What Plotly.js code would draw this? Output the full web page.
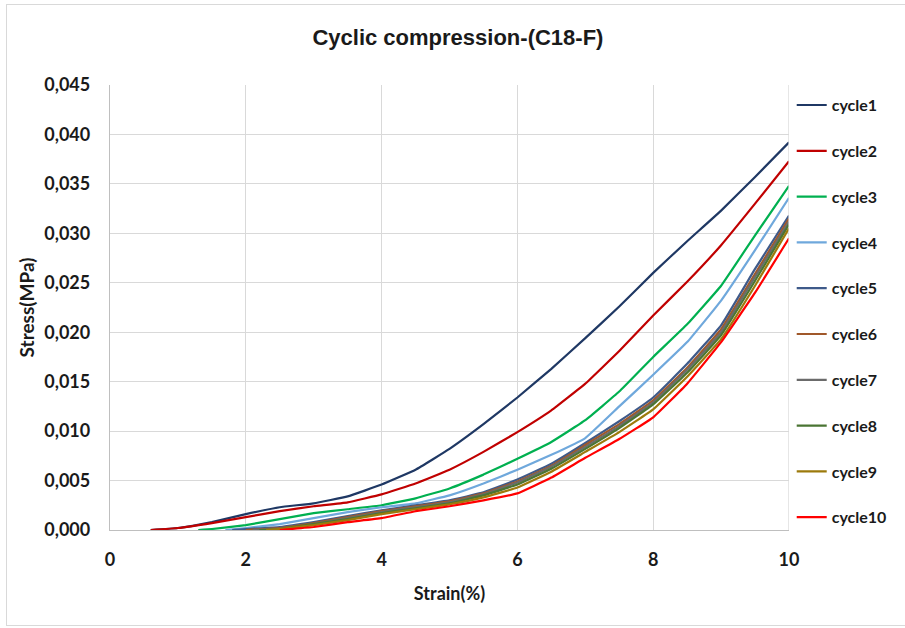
<!DOCTYPE html>
<html>
<head>
<meta charset="utf-8">
<script src="https://cdn.plot.ly/plotly-3.0.1.min.js"></script>
<style>
  html, body { margin: 0; padding: 0; background: #ffffff; }
  #wrap { position: relative; width: 905px; height: 628px; overflow: hidden; }
  #chart { width: 905px; height: 628px; }
  #frame { position: absolute; left: 6px; top: 4px; width: 1000px; height: 622px;
           border: 1px solid #D9D9D9; pointer-events: none; box-sizing: border-box; }
</style>
</head>
<body>
<div id="wrap">
  <div id="chart"></div>
  <div id="frame"></div>
</div>
<script>
// ---- data ----
const seriesNames = ["cycle1","cycle2","cycle3","cycle4","cycle5","cycle6","cycle7","cycle8","cycle9","cycle10"];

const strain1 = [0.6, 1, 1.5, 2, 2.5, 3, 3.5, 4, 4.5, 5, 5.5, 6, 6.5, 7, 7.5, 8, 8.5, 9, 9.5, 10];
const stress1 = [0, 0.0002, 0.0008, 0.0016, 0.0023, 0.0027, 0.0034, 0.0046, 0.0061, 0.0082, 0.0107, 0.0134, 0.0163, 0.0194, 0.0226, 0.0260, 0.0292, 0.0323, 0.0357, 0.0392];

const strain2 = [0.6, 1, 1.5, 2, 2.5, 3, 3.5, 4, 4.5, 5, 5.5, 6, 6.5, 7, 7.5, 8, 8.5, 9, 9.5, 10];
const stress2 = [0, 0.0002, 0.0007, 0.0013, 0.0019, 0.0024, 0.0028, 0.0036, 0.0047, 0.0061, 0.0079, 0.0099, 0.0121, 0.0148, 0.0181, 0.0217, 0.0251, 0.0288, 0.0330, 0.0373];

const strain3 = [1.3, 1.5, 2, 2.5, 3, 3.5, 4, 4.5, 5, 5.5, 6, 6.5, 7, 7.5, 8, 8.5, 9, 9.5, 10];
const stress3 = [0, 0.0001, 0.0005, 0.0011, 0.0017, 0.0021, 0.0025, 0.0032, 0.0042, 0.0056, 0.0072, 0.0089, 0.0111, 0.0140, 0.0175, 0.0208, 0.0247, 0.0298, 0.0348];

const strain4 = [1.7, 2, 2.5, 3, 3.5, 4, 4.5, 5, 5.5, 6, 6.5, 7, 7.5, 8, 8.5, 9, 9.5, 10];
const stress4 = [0, 0.0002, 0.0006, 0.0012, 0.0018, 0.0023, 0.0027, 0.0035, 0.0047, 0.0061, 0.0076, 0.0093, 0.0125, 0.0157, 0.0190, 0.0232, 0.0283, 0.0336];

const strain5 = [1.8, 2, 2.5, 3, 3.5, 4, 4.5, 5, 5.5, 6, 6.5, 7, 7.5, 8, 8.5, 9, 9.5, 10];
const stress5 = [0, 0.0001, 0.0003, 0.0008, 0.0014, 0.0020, 0.0025, 0.0030, 0.0038, 0.0051, 0.0067, 0.0088, 0.0110, 0.0134, 0.0168, 0.0207, 0.0264, 0.0318];

const strain6 = [2.0, 2.5, 3, 3.5, 4, 4.5, 5, 5.5, 6, 6.5, 7, 7.5, 8, 8.5, 9, 9.5, 10];
const stress6 = [0, 0.0002, 0.0007, 0.0013, 0.0019, 0.0024, 0.0029, 0.0037, 0.0049, 0.0065, 0.0086, 0.0107, 0.0131, 0.0164, 0.0203, 0.0259, 0.0315];

const strain7 = [2.1, 2.5, 3, 3.5, 4, 4.5, 5, 5.5, 6, 6.5, 7, 7.5, 8, 8.5, 9, 9.5, 10];
const stress7 = [0, 0.0001, 0.0006, 0.0012, 0.0018, 0.0023, 0.0028, 0.0036, 0.0048, 0.0064, 0.0084, 0.0105, 0.0129, 0.0162, 0.0200, 0.0256, 0.0312];

const strain8 = [2.2, 2.5, 3, 3.5, 4, 4.5, 5, 5.5, 6, 6.5, 7, 7.5, 8, 8.5, 9, 9.5, 10];
const stress8 = [0, 0.0001, 0.0006, 0.0011, 0.0017, 0.0022, 0.0027, 0.0035, 0.0046, 0.0062, 0.0082, 0.0103, 0.0127, 0.0159, 0.0197, 0.0252, 0.0309];

const strain9 = [2.3, 2.5, 3, 3.5, 4, 4.5, 5, 5.5, 6, 6.5, 7, 7.5, 8, 8.5, 9, 9.5, 10];
const stress9 = [0, 0.0001, 0.0005, 0.0010, 0.0016, 0.0021, 0.0026, 0.0033, 0.0043, 0.0059, 0.0079, 0.0099, 0.0122, 0.0155, 0.0193, 0.0247, 0.0305];

const strain10 = [2.5, 3, 3.5, 4, 4.5, 5, 5.5, 6, 6.5, 7, 7.5, 8, 8.5, 9, 9.5, 10];
const stress10 = [0, 0.0003, 0.0008, 0.0012, 0.0019, 0.0024, 0.0030, 0.0037, 0.0053, 0.0073, 0.0092, 0.0114, 0.0148, 0.0190, 0.0240, 0.0295];

const xTickVals = [0, 2, 4, 6, 8, 10];
const yTickVals = [0, 0.005, 0.010, 0.015, 0.020, 0.025, 0.030, 0.035, 0.040, 0.045];

// ---- styles ----
const colors = ["#1F3864", "#C00000", "#00B050", "#6FA8DC", "#3E5A8A",
                "#A0582A", "#6B6B6B", "#4A7433", "#9C7A0C", "#FF0000"];
const strains = [strain1, strain2, strain3, strain4, strain5, strain6, strain7, strain8, strain9, strain10];
const stresses = [stress1, stress2, stress3, stress4, stress5, stress6, stress7, stress8, stress9, stress10];

const baseFont = "Lato, 'Open Sans', 'DejaVu Sans', sans-serif";

const traces = seriesNames.map((name, i) => ({
  type: "scatter",
  mode: "lines",
  name: "<b>" + name + "</b>",
  legendgroup: name,
  x: strains[i],
  y: stresses[i],
  line: { color: colors[i], width: 2.2, shape: "spline", smoothing: 0.3 },
  hoverinfo: "x+y+name"
}));

const layout = {
  width: 905,
  height: 628,
  paper_bgcolor: "#ffffff",
  plot_bgcolor: "#ffffff",
  separators: ",.",
  margin: { l: 110, r: 116, t: 85, b: 98, pad: 0, autoexpand: false },
  title: {
    text: "<b>Cyclic compression-(C18-F)</b>",
    font: { family: "'Liberation Sans Narrow', 'Liberation Sans', Arial, sans-serif", size: 22, color: "#1a1a1a" },
    x: 0.506, xanchor: "center", xref: "container", y: 0.94, yanchor: "middle"
  },
  xaxis: {
    range: [0, 10],
    tickvals: xTickVals,
    ticktext: xTickVals.map(v => "<b>" + v + "</b>"),
    showgrid: true, gridcolor: "#D9D9D9", gridwidth: 1.3,
    zeroline: false,
    showline: true, linecolor: "#BFBFBF", linewidth: 1.3, mirror: false,
    ticks: "", ticklen: 0,
    ticklabelstandoff: 13,
    tickfont: { family: baseFont, size: 18, color: "#1a1a1a" },
    title: { text: "<b>Strain(%)</b>", font: { family: baseFont, size: 18, color: "#1a1a1a" }, standoff: 18 },
    automargin: false,
    fixedrange: true
  },
  yaxis: {
    range: [0, 0.045],
    tickvals: yTickVals,
    ticktext: yTickVals.map(v => "<b>" + v.toFixed(3).replace(".", ",") + "</b>"),
    showgrid: true, gridcolor: "#D9D9D9", gridwidth: 1.3,
    zeroline: false,
    showline: true, linecolor: "#BFBFBF", linewidth: 1.3,
    ticks: "", ticklen: 0,
    ticklabelstandoff: 15,
    tickfont: { family: baseFont, size: 18, color: "#1a1a1a" },
    title: { text: "<b>Stress(MPa)</b>", font: { family: baseFont, size: 19, color: "#1a1a1a" }, standoff: 4 },
    automargin: false,
    fixedrange: true
  },
  shapes: [
    { type: "line", xref: "x", yref: "paper", x0: 10, x1: 10, y0: 0, y1: 1,
      line: { color: "#D9D9D9", width: 1.3 } }
  ],
  showlegend: true,
  legend: {
    x: 1.004, xanchor: "left",
    y: 0.993, yanchor: "top",
    font: { family: baseFont, size: 16, color: "#1a1a1a" },
    tracegroupgap: 22,
    itemwidth: 30,
    maxheight: 600,
    bgcolor: "rgba(0,0,0,0)",
    borderwidth: 0
  },
  hovermode: "closest"
};

Plotly.newPlot("chart", traces, layout, { displayModeBar: false });
</script>
</body>
</html>
